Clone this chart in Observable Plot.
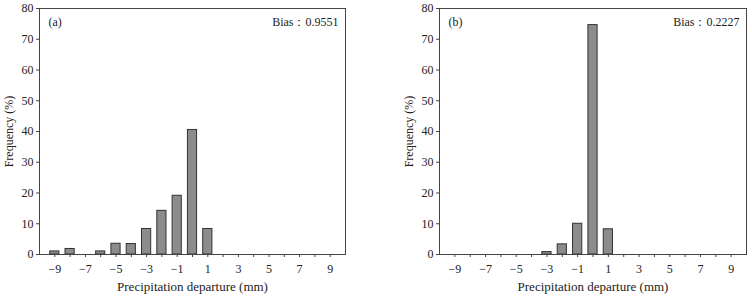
<!DOCTYPE html>
<html><head><meta charset="utf-8">
<script src="https://cdn.jsdelivr.net/npm/d3@7"></script>
<script src="https://cdn.jsdelivr.net/npm/@observablehq/plot@0.6"></script>
<style>
body{margin:0;background:#fff;}
#wrap{display:flex;width:752px;height:298px;}
#wrap svg{display:block;}
</style>
</head><body><div id="wrap"></div>
<script>
const departures = [-9,-8,-7,-6,-5,-4,-3,-2,-1,0,1,2,3,4,5,6,7,8,9];
const freqA = [1.0,1.8,0,1.0,3.5,3.4,8.3,14.2,19.1,40.5,8.3,0,0,0,0,0,0,0,0];
const freqB = [0,0,0,0,0,0,0.8,3.3,10.0,74.6,8.2,0,0,0,0,0,0,0,0];
const panelLabels = ["(a)","(b)"];
const biasLabels = ["Bias：0.9551","Bias：0.2227"];
const yTicks = [0,10,20,30,40,50,60,70,80];
const xLabelTicks = [-9,-7,-5,-3,-1,1,3,5,7,9];
const xTitle = "Precipitation departure (mm)";
const yTitle = "Frequency (%)";

const fmt = d => (d < 0 ? "\u2212" + Math.abs(d) : String(d));
const FONT = "'Liberation Serif', 'DejaVu Serif', serif";

function panel(freqs, label, bias, ml, mr) {
  const data = departures.map((x, i) => ({x, f: freqs[i]})).filter(d => d.f > 0);
  return Plot.plot({
    width: 376, height: 298,
    marginLeft: ml, marginRight: mr, marginTop: 8, marginBottom: 44,
    style: {fontFamily: FONT, fontSize: "12px", color: "#222", background: "#fff"},
    x: {domain: [-10, 10], label: null},
    y: {domain: [0, 80], label: null},
    marks: [
      Plot.rectY(data, {x1: d => d.x - 0.3, x2: d => d.x + 0.3, y: "f", fill: "#8c8c8c", stroke: "#333", strokeWidth: 1}),
      Plot.axisX({ticks: departures, tickSize: 3, tickPadding: 7, stroke: "#444",
        tickFormat: d => xLabelTicks.includes(d) ? fmt(d) : "",
        label: null, fontSize: 12}),
      Plot.axisX({ticks: [], label: xTitle, labelAnchor: "center", labelOffset: 36, labelArrow: "none", fontSize: 13}),
      Plot.axisY({ticks: yTicks, tickSize: 3, tickPadding: 3, stroke: "#444",
        tickFormat: d => String(d),
        label: yTitle, labelAnchor: "center", labelOffset: 35, labelArrow: "none", fontSize: 12}),
      Plot.frame({stroke: "#444"}),
      Plot.text([label], {text: d => d, frameAnchor: "top-left", dx: 9, dy: 9, fontSize: 12, fill: "#222"}),
      Plot.text([bias], {text: d => d, frameAnchor: "top-right", dx: -7, dy: 9, fontSize: 12, fill: "#222"})
    ]
  });
}

const wrap = document.getElementById("wrap");
wrap.append(panel(freqA, panelLabels[0], biasLabels[0], 39, 31));
wrap.append(panel(freqB, panelLabels[1], biasLabels[1], 63, 6));
</script>
</body></html>
